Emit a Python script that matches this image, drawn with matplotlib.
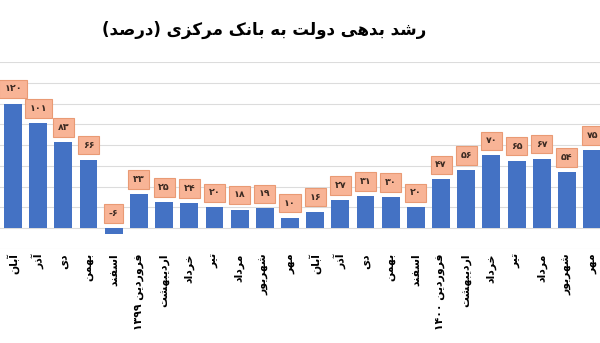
import re
import matplotlib
matplotlib.use('Agg')
from matplotlib import pyplot as plt
import numpy as np

# Data
months = ['آبان', 'آذر', 'دی', 'بهمن', 'اسفند', 'فروردین ۱۳۹۹', 'اردیبهشت', 'خرداد',
          'تیر', 'مرداد', 'شهریور', 'مهر',
          'آبان', 'آذر', 'دی', 'بهمن', 'اسفند', 'فروردین ۱۴۰۰', 'اردیبهشت', 'خرداد',
          'تیر', 'مرداد', 'شهریور', 'مهر']
values = [120, 101, 83, 66, -6, 33, 25, 24, 20, 18, 19, 10,
          16, 27, 31, 30, 20, 47, 56, 70, 65, 67, 54, 75]
title = 'رشد بدهی دولت به بانک مرکزی (درصد)'

# Arabic presentation forms: isolated, final, initial, medial
FORMS = {
    'ا': (0xFE8D, 0xFE8E), 'آ': (0xFE81, 0xFE82),
    'ب': (0xFE8F, 0xFE90, 0xFE91, 0xFE92), 'پ': (0xFB56, 0xFB57, 0xFB58, 0xFB59),
    'ت': (0xFE95, 0xFE96, 0xFE97, 0xFE98), 'ج': (0xFE9D, 0xFE9E, 0xFE9F, 0xFEA0),
    'خ': (0xFEA5, 0xFEA6, 0xFEA7, 0xFEA8), 'د': (0xFEA9, 0xFEAA), 'ذ': (0xFEAB, 0xFEAC),
    'ر': (0xFEAD, 0xFEAE), 'ز': (0xFEAF, 0xFEB0), 'ژ': (0xFB8A, 0xFB8B),
    'س': (0xFEB1, 0xFEB2, 0xFEB3, 0xFEB4), 'ش': (0xFEB5, 0xFEB6, 0xFEB7, 0xFEB8),
    'ص': (0xFEB9, 0xFEBA, 0xFEBB, 0xFEBC), 'ف': (0xFED1, 0xFED2, 0xFED3, 0xFED4),
    'ک': (0xFB8E, 0xFB8F, 0xFB90, 0xFB91), 'گ': (0xFB92, 0xFB93, 0xFB94, 0xFB95),
    'ل': (0xFEDD, 0xFEDE, 0xFEDF, 0xFEE0), 'م': (0xFEE1, 0xFEE2, 0xFEE3, 0xFEE4),
    'ن': (0xFEE5, 0xFEE6, 0xFEE7, 0xFEE8), 'و': (0xFEED, 0xFEEE),
    'ه': (0xFEE9, 0xFEEA, 0xFEEB, 0xFEEC), 'ی': (0xFBFC, 0xFBFD, 0xFBFE, 0xFBFF),
}


def fa(s):
    # shape letters then reorder for left-to-right drawing
    out = []
    for i, c in enumerate(s):
        if c not in FORMS:
            out.append(c)
            continue
        prev = s[i - 1] if i > 0 else None
        nxt = s[i + 1] if i < len(s) - 1 else None
        jp = prev in FORMS and len(FORMS[prev]) == 4
        jn = nxt in FORMS and len(FORMS[c]) == 4
        f = FORMS[c]
        if jp and jn:
            out.append(chr(f[3]))
        elif jp:
            out.append(chr(f[1]))
        elif jn:
            out.append(chr(f[2]))
        else:
            out.append(chr(f[0]))
    shaped = ''.join(out)
    runs = re.findall(r'[0-9\u06F0-\u06F9]+|[^0-9\u06F0-\u06F9]+', shaped)
    vis = ''.join(r if r[0].isdigit() else r[::-1] for r in runs[::-1])
    return vis.translate(str.maketrans('()', ')('))


def fa_num(v):
    return str(v).translate(str.maketrans('0123456789', '۰۱۲۳۴۵۶۷۸۹'))


plt.rcParams['font.family'] = ['DejaVu Sans']

fig = plt.figure(figsize=(6, 3.43), dpi=100)
ax = fig.add_axes([0, 1 - 249 / 343, 1, (249 - 62) / 343])

x = np.arange(len(values))
ax.bar(x, values, width=0.71, color='#4472C4', zorder=2)

for xi, v in zip(x, values):
    ax.annotate(fa_num(v), (xi, max(v, 0)), xytext=(0, 10.5), textcoords='offset points',
                ha='center', va='center', fontsize=6.8, fontweight='bold', color='#3b2a22',
                bbox=dict(boxstyle='square,pad=0.5', fc='#F8B496', ec='#E99A74', lw=0.8),
                zorder=3)

ax.set_xlim(-13 / 25.18, 587 / 25.18)
ax.set_ylim(-20, 160)
ax.set_yticks(np.arange(-20, 161, 20))
ax.yaxis.grid(True, color='#DCDCDC', lw=0.8, zorder=0)
ax.set_yticklabels([])
ax.tick_params(axis='y', length=0)
for s in ax.spines.values():
    s.set_visible(False)

ax.set_xticks(x)
ax.set_xticklabels([fa(m) for m in months], rotation=90, fontsize=7.8,
                   fontweight='bold', va='top', ha='center')
ax.tick_params(axis='x', length=0, pad=3)

fig.text(0.44, 1 - 30 / 343, fa(title), ha='center', va='center',
         fontsize=12, fontweight='bold')

fig.savefig('out.png', dpi=100)
